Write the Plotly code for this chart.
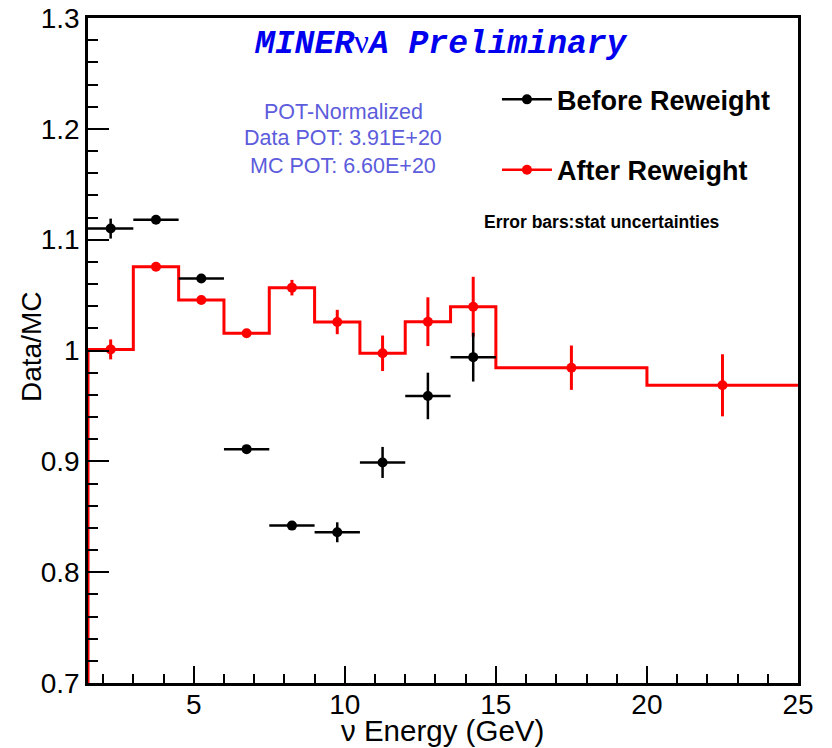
import plotly.graph_objects as go

# ---- data ----
bin_edges = [1.5, 3, 4.5, 6, 7.5, 9, 10.5, 12, 13.5, 15, 20, 25]
before_vals = [1.110, 1.118, 1.065, 0.911, 0.842, 0.836, 0.899, 0.959, 0.994]
before_err = [0.009, 0.003, 0.003, 0.003, 0.004, 0.009, 0.014, 0.021, 0.022]
after_vals = [1.001, 1.0756, 1.0456, 1.0155, 1.0567, 1.0257, 0.9975, 1.026, 1.0395, 0.9845, 0.9686]
after_err = [0.009, 0.003, 0.003, 0.003, 0.007, 0.011, 0.016, 0.022, 0.027, 0.020, 0.028]
y_range = [0.7, 1.3]
x_range = [1.5, 25]

centers = [(a + b) / 2 for a, b in zip(bin_edges[:-1], bin_edges[1:])]
halfw = [(b - a) / 2 for a, b in zip(bin_edges[:-1], bin_edges[1:])]
nb = len(before_vals)

RED = "#ff0000"
FONT = "Liberation Sans, Arial, sans-serif"

fig = go.Figure()

# red histogram (after reweight)
fig.add_trace(go.Scatter(
    x=[bin_edges[0]] + bin_edges,
    y=[y_range[0]] + after_vals + [after_vals[-1]],
    mode="lines", line=dict(color=RED, width=3, shape="hv"),
    showlegend=False, hoverinfo="skip"))

# red points
fig.add_trace(go.Scatter(
    x=centers, y=after_vals, mode="markers",
    marker=dict(color=RED, size=10),
    error_y=dict(type="data", array=after_err, color=RED, thickness=3, width=0),
    showlegend=False))

# black points (before reweight)
fig.add_trace(go.Scatter(
    x=centers[:nb], y=before_vals, mode="markers",
    marker=dict(color="black", size=10),
    error_y=dict(type="data", array=before_err, color="black", thickness=2.5, width=0),
    error_x=dict(type="data", array=halfw[:nb], color="black", thickness=2.5, width=0),
    showlegend=False))

# legend entries
fig.add_trace(go.Scatter(x=[None], y=[None], mode="lines+markers", name="Before Reweight",
                         line=dict(color="black", width=2.5), marker=dict(color="black", size=10),
                         legend="legend"))
fig.add_trace(go.Scatter(x=[None], y=[None], mode="lines+markers", name="After Reweight",
                         line=dict(color=RED, width=2.5), marker=dict(color=RED, size=10),
                         legend="legend2"))

axis_common = dict(
    showline=True, linecolor="black", linewidth=2.5, mirror=True, automargin=False,
    showgrid=False, zeroline=False, ticks="inside", tickcolor="black", tickwidth=2,
    tickfont=dict(family=FONT, size=28, color="black"),
)

leg_font = dict(family=FONT, size=27, color="black", weight="bold")
fig.update_layout(
    width=832, height=748,
    margin=dict(l=88, r=34, t=18, b=65),
    paper_bgcolor="white", plot_bgcolor="white",
    xaxis=dict(range=x_range, tick0=0, dtick=5, ticklen=17, ticklabelstandoff=-5,
               minor=dict(dtick=1, ticklen=9, tickwidth=2, ticks="inside", tickcolor="black"),
               **axis_common),
    yaxis=dict(range=y_range, tick0=0, dtick=0.1, ticklen=21,
               minor=dict(dtick=0.02, ticklen=10, tickwidth=2, ticks="inside", tickcolor="black"),
               **axis_common),
    legend=dict(x=0.576, xanchor="left", y=0.877, yanchor="middle", itemwidth=50,
                bgcolor="rgba(0,0,0,0)", font=leg_font),
    legend2=dict(x=0.576, xanchor="left", y=0.771, yanchor="middle", itemwidth=50,
                 bgcolor="rgba(0,0,0,0)", font=leg_font),
)

POT = "#5c5cdc"
annots = [
    dict(text='MINER<span style="font-style:normal;font-weight:normal;font-family:Liberation Serif">ν</span>A Preliminary',
         x=441, y=43, font=dict(family="Liberation Mono, Courier New, monospace", size=33,
                                color="#0000ee", weight="bold", style="italic")),
    dict(text="POT-Normalized", x=343, y=112, font=dict(family=FONT, size=21.5, color=POT)),
    dict(text="Data POT: 3.91E+20", x=343, y=138, font=dict(family=FONT, size=21.5, color=POT)),
    dict(text="MC POT: 6.60E+20", x=343, y=166, font=dict(family=FONT, size=21.5, color=POT)),
    dict(text="Error bars:stat uncertainties", x=602, y=222,
         font=dict(family=FONT, size=17.5, color="black", weight="bold")),
    dict(text="ν Energy (GeV)", x=442, y=731, font=dict(family=FONT, size=29.5, color="black")),
]
for a in annots:
    fig.add_annotation(text=a["text"], xref="paper", yref="paper",
                       x=(a["x"] - 88) / 710, y=(683 - a["y"]) / 665,
                       xanchor="center", yanchor="middle", showarrow=False, font=a["font"])
fig.add_annotation(text="Data/MC", xref="paper", yref="paper", textangle=-90,
                   x=(31 - 88) / 710, y=(683 - 347) / 665, xanchor="center", yanchor="middle",
                   showarrow=False, font=dict(family=FONT, size=28, color="black"))

fig.write_html("out.html")
